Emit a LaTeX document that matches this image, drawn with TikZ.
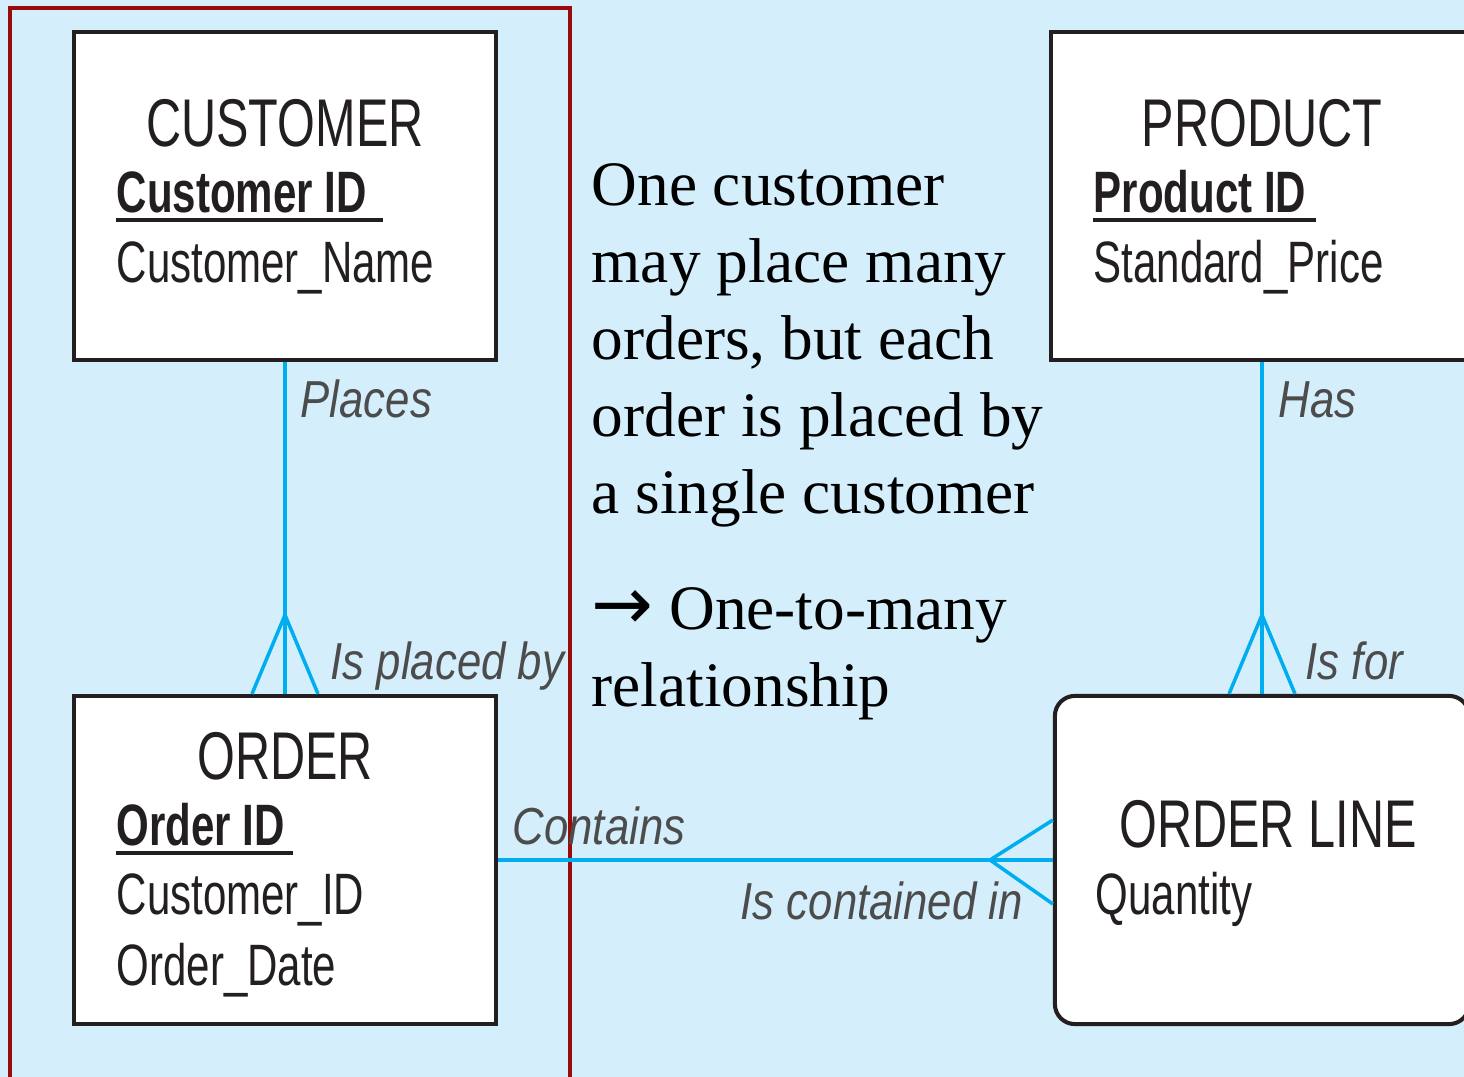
\documentclass[tikz,border=0pt]{standalone}
\usepackage{fontspec}
\usepackage{xcolor}
\setmainfont{Liberation Serif}
\newfontfamily\erfont[FakeStretch=0.72]{Liberation Sans}
\newfontfamily\verbfont[FakeStretch=0.84]{Liberation Sans}
\newfontfamily\arrowfont{DejaVu Sans}
\usetikzlibrary{positioning, calc}

\definecolor{bgblue}{HTML}{D4EFFB}
\definecolor{relcyan}{HTML}{00AEEF}
\definecolor{framered}{HTML}{9B0A0A}
\definecolor{boxline}{HTML}{231F20}

\tikzset{
    entity/.style={rectangle, draw=boxline, line width=1.15pt, fill=white, minimum width=4.22cm, minimum height=3.28cm},
    rel/.style={draw=relcyan, line width=1pt},
    ename/.style={font=\erfont\fontsize{19.2pt}{22pt}\selectfont, text=boxline, anchor=base, inner sep=0},
    attr/.style={font=\erfont\fontsize{16.6pt}{20pt}\selectfont, text=boxline, anchor=base west, inner sep=0},
    verb/.style={font=\verbfont\itshape\fontsize{14.8pt}{17pt}\selectfont, text=black!70, anchor=base west, inner sep=0},
    keyline/.style={draw=boxline, line width=1pt}
}

\begin{document}
\begin{tikzpicture}[x=0.01cm, y=-0.01cm]
        \useasboundingbox (0,0) rectangle (1464,1077);
        \fill[bgblue] (0,0) rectangle (1464,1077);
        \draw[framered, line width=1.2pt] (10,1090) -- (10,8) -- (570,8) -- (570,1090);

        % entities
        \node[entity] (cust) at (285,196) {};
        \node[entity] (prod) at (1262,196) {};
        \node[entity] (ord) at (285,860) {};
        \node[entity, rounded corners=0.2cm, minimum width=4.14cm] (line) at (1262,860) {};

        % relationships
        \draw[rel] (cust) -- (ord)
            (prod) -- (line)
            (ord) -- (line);
        \coordinate (cfOrd) at (285,615);
        \coordinate (cfLine) at (1262,615);
        \coordinate (cfSide) at (990,860);
        \draw[rel] ($(ord.north)+(-33,0)$) -- (cfOrd) -- ($(ord.north)+(33,0)$);
        \draw[rel] ($(line.north)+(-33,0)$) -- (cfLine) -- ($(line.north)+(33,0)$);
        \draw[rel] ($(line.west)+(0,-40)$) -- (cfSide) -- ($(line.west)+(0,44)$);

        % entity texts
        \node[ename] (custName) at (285,147) {CUSTOMER};
        \node[attr] (custKey) at (116,213) {\bfseries Customer ID};
        \node[attr] (custA) at (116,283) {Customer\_Name};
        \node[ename] (prodName) at (1262,147) {PRODUCT};
        \node[attr] (prodKey) at (1093,213) {\bfseries Product ID};
        \node[attr] (prodA) at (1093,283) {Standard\_Price};
        \node[ename] (ordName) at (285,780) {ORDER};
        \node[attr] (ordKey) at (116,846) {\bfseries Order ID};
        \node[attr] (ordA) at (116,915) {Customer\_ID};
        \node[attr] (ordB) at (116,985) {Order\_Date};
        \node[ename] (lineName) at (1268,848) {ORDER LINE};
        \node[attr] (lineA) at (1095,915) {Quantity};
        \draw[keyline] ($(custKey.base west)+(0,7)$) -- ++(267,0);
        \draw[keyline] ($(prodKey.base west)+(0,7)$) -- ++(223,0);
        \draw[keyline] ($(ordKey.base west)+(0,7)$) -- ++(177,0);

        % relationship names
        \node[verb] (places) at (300,418) {Places};
        \node[verb] (placedBy) at (330,680) {Is placed by};
        \node[verb] (has) at (1278,418) {Has};
        \node[verb] (isFor) at (1305,680) {Is for};
        \node[verb] (contains) at (512,845) {Contains};
        \node[verb] (containedIn) at (740,920) {Is contained in};

        % note
        \node[anchor=base west, align=left, inner sep=0, font=\fontsize{18pt}{21.9pt}\selectfont] (note) at (591,707)
            {One customer\\may place many\\orders, but each\\order is placed by\\a single customer\\[0.39cm]{\arrowfont\fontsize{21pt}{22pt}\selectfont →}\hspace{4.5pt}One-to-many\\relationship};
\end{tikzpicture}
\end{document}
